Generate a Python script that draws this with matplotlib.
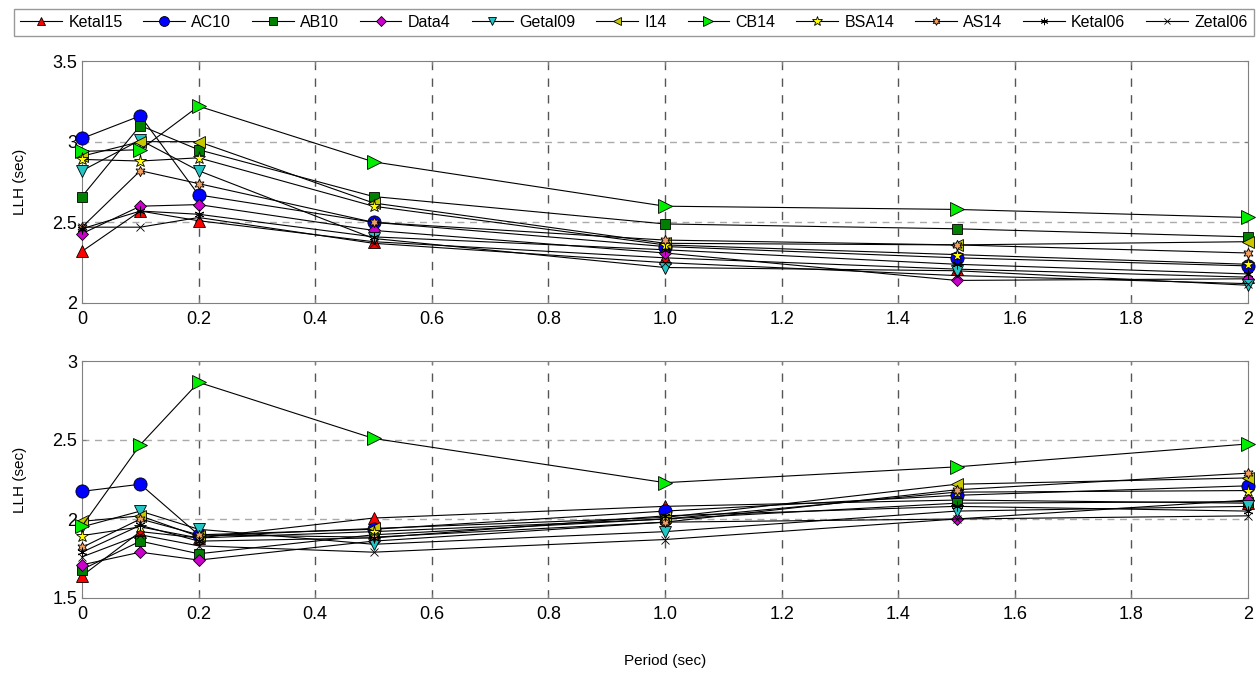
import numpy as np
import matplotlib.pyplot as plt
from matplotlib.ticker import FixedLocator

plt.rcParams['font.family'] = ['Liberation Sans', 'DejaVu Sans']

period = [0, 0.1, 0.2, 0.5, 1.0, 1.5, 2.0]
models = ["Ketal15", "AC10", "AB10", "Data4", "Getal09", "I14",
          "CB14", "BSA14", "AS14", "Ketal06", "Zetal06"]

# upper panel
llh_top = {
    "Ketal15": [2.32, 2.57, 2.51, 2.38, 2.28, 2.21, 2.16],
    "AC10":    [3.02, 3.16, 2.67, 2.50, 2.35, 2.28, 2.23],
    "AB10":    [2.66, 3.10, 2.95, 2.66, 2.49, 2.46, 2.41],
    "Data4":   [2.43, 2.60, 2.61, 2.45, 2.31, 2.14, 2.15],
    "Getal09": [2.82, 3.01, 2.82, 2.40, 2.22, 2.20, 2.11],
    "I14":     [2.91, 3.00, 3.00, 2.62, 2.37, 2.36, 2.38],
    "CB14":    [2.94, 2.95, 3.22, 2.875, 2.60, 2.58, 2.53],
    "BSA14":   [2.89, 2.88, 2.90, 2.60, 2.36, 2.30, 2.24],
    "AS14":    [2.47, 2.82, 2.74, 2.50, 2.39, 2.36, 2.31],
    "Ketal06": [2.46, 2.57, 2.55, 2.41, 2.33, 2.24, 2.18],
    "Zetal06": [2.47, 2.47, 2.53, 2.37, 2.25, 2.17, 2.12],
}

# lower panel
llh_bot = {
    "Ketal15": [1.64, 1.92, 1.88, 2.006, 2.08, 2.12, 2.10],
    "AC10":    [2.175, 2.22, 1.90, 1.935, 2.05, 2.15, 2.21],
    "AB10":    [1.68, 1.86, 1.78, 1.90, 2.00, 2.10, 2.11],
    "Data4":   [1.71, 1.79, 1.74, 1.86, 1.98, 2.00, 2.12],
    "Getal09": [1.95, 2.05, 1.935, 1.84, 1.92, 2.05, 2.08],
    "I14":     [1.985, 2.02, 1.89, 1.94, 2.01, 2.22, 2.26],
    "CB14":    [1.955, 2.47, 2.865, 2.51, 2.23, 2.33, 2.475],
    "BSA14":   [1.895, 1.95, 1.88, 1.92, 2.00, 2.17, 2.18],
    "AS14":    [1.82, 2.00, 1.90, 1.885, 1.98, 2.185, 2.29],
    "Ketal06": [1.79, 1.96, 1.86, 1.88, 2.02, 2.08, 2.05],
    "Zetal06": [1.76, 1.90, 1.83, 1.79, 1.87, 2.00, 2.02],
}

xticks = [0, 0.2, 0.4, 0.6, 0.8, 1.0, 1.2, 1.4, 1.6, 1.8, 2.0]
xticklabels = ["0", "0.2", "0.4", "0.6", "0.8", "1.0", "1.2", "1.4", "1.6", "1.8", "2"]
yticks_top = [2, 2.5, 3, 3.5]
yticklabels_top = ["2", "2.5", "3", "3.5"]
yticks_bot = [1.5, 2, 2.5, 3]
yticklabels_bot = ["1.5", "2", "2.5", "3"]

style = {
    "Ketal15": dict(marker="^", mfc="#ff0000", ms=8.5),
    "AC10":    dict(marker="o", mfc="#0000ff", ms=9.5),
    "AB10":    dict(marker="s", mfc="#007f00", ms=7.5),
    "Data4":   dict(marker="D", mfc="#cc00cc", ms=6.5),
    "Getal09": dict(marker="v", mfc="#22c4c4", ms=8.5),
    "I14":     dict(marker="<", mfc="#c8c800", ms=8.5),
    "CB14":    dict(marker=">", mfc="#00ee00", ms=9.5),
    "BSA14":   dict(marker="*", mfc="#ffff00", ms=9.5),
    "AS14":    dict(marker=(6, 1, 0), mfc="#f0a060", ms=7.5),
    "Ketal06": dict(marker=(6, 2, 0), mfc="none", ms=7),
    "Zetal06": dict(marker="x", mfc="none", ms=6),
}

fig = plt.figure(figsize=(12.56, 6.74), dpi=100)
ax1 = fig.add_axes([82 / 1256, 1 - 303 / 674, 1166 / 1256, 242 / 674])
ax2 = fig.add_axes([82 / 1256, 1 - 598 / 674, 1166 / 1256, 237 / 674])


def draw(ax, data, yticks, ylabels, ylim):
    handles = []
    for name in models:
        st = style[name]
        h, = ax.plot(period, data[name], color="black", lw=0.8,
                     marker=st["marker"], markerfacecolor=st["mfc"],
                     markeredgecolor="black", markeredgewidth=0.6,
                     markersize=st["ms"], label=name, clip_on=False, zorder=3)
        handles.append(h)
    ax.set_xlim(0, 2)
    ax.set_ylim(*ylim)
    ax.xaxis.set_major_locator(FixedLocator(xticks))
    ax.set_xticklabels(xticklabels)
    ax.set_yticks(yticks)
    ax.set_yticklabels(ylabels)
    for x in xticks[1:-1]:
        ax.axvline(x, color="#555555", lw=1.0, ls=(0, (6, 6)), zorder=1)
    for y in yticks[1:-1]:
        ax.axhline(y, color="#aaaaaa", lw=1.0, ls=(0, (5, 4)), zorder=1)
    for sp in ax.spines.values():
        sp.set_color("#808080")
    ax.tick_params(direction="in", length=3, color="#808080",
                   labelsize=13, top=True, right=True)
    ax.tick_params(axis="x", pad=6)
    ax.set_ylabel("LLH (sec)", fontsize=11, labelpad=18)
    return handles


handles = draw(ax1, llh_top, yticks_top, yticklabels_top, (2, 3.5))
draw(ax2, llh_bot, yticks_bot, yticklabels_bot, (1.5, 3))
ax2.set_xlabel("Period (sec)", fontsize=11, labelpad=22)

leg = fig.legend(handles, models, loc="center", ncol=11, mode="expand",
                 bbox_to_anchor=(14 / 1256, 1 - 39 / 674, 1240 / 1256, 33 / 674),
                 fontsize=11.5, handlelength=2.6, handletextpad=0.4,
                 columnspacing=0.5, borderaxespad=0, fancybox=False,
                 markerscale=0.75, frameon=True)
leg.get_frame().set_edgecolor("#808080")
leg.get_frame().set_linewidth(1.0)

fig.savefig("out.png", dpi=100)
